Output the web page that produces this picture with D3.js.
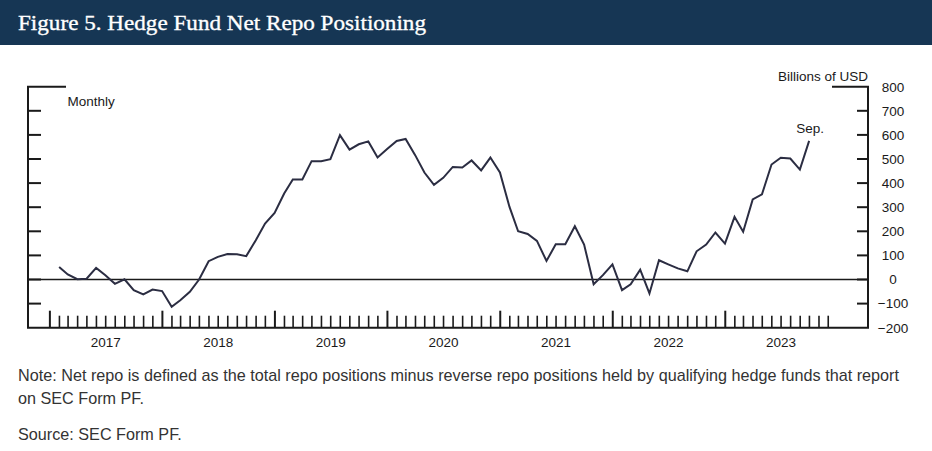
<!DOCTYPE html>
<html>
<head>
<meta charset="utf-8">
<script src="https://cdn.jsdelivr.net/npm/d3@7"></script>
<style>
  body { margin: 0; background: #fff; }
  svg { display: block; }
</style>
</head>
<body>
<div id="chart"></div>
<script>
// net repo, billions of USD, monthly from Jan 2017
const values2017 = [52, 21, 1, 3, 48, 18, -18, 1, -44, -62, -42, -48];
const values2018 = [-113, -86, -51, 0, 76, 94, 106, 105, 97, 163, 232, 276];
const values2019 = [357, 415, 415, 491, 491, 499, 599, 539, 561, 573, 506, 541];
const values2020 = [575, 583, 516, 444, 393, 422, 467, 465, 494, 453, 506, 444];
const values2021 = [301, 200, 189, 160, 77, 146, 146, 221, 145, -20, 18, 63];
const values2022 = [-44, -20, 41, -58, 80, 63, 46, 34, 117, 145, 195, 149];
const values2023 = [260, 198, 332, 353, 477, 505, 502, 456, 575];
const yearLabels = [2017, 2018, 2019, 2020, 2021, 2022, 2023];
const yTicks = [-200, -100, 0, 100, 200, 300, 400, 500, 600, 700, 800];

const netRepo = [].concat(values2017, values2018, values2019, values2020,
                          values2021, values2022, values2023);
const startDate = new Date(2017, 0, 1);
// each month is plotted at its last day
const data = netRepo.map((v, i) => ({
  date: d3.timeDay.offset(d3.timeMonth.offset(startDate, i + 1), -1),
  value: v
}));

const width = 932, height = 451;
const plotLeft = 28, plotRight = 868, plotTop = 86.7, plotBottom = 327.7;
const ink = "#1a1a1a";
const font = "'Liberation Sans', Arial, sans-serif";

let svg = d3.select("#chart")
  .append("svg")
  .attr("width", width)
  .attr("height", height);

// title bar
svg.append("rect")
  .attr("x", 0).attr("y", 0)
  .attr("width", width).attr("height", 45)
  .attr("fill", "#163654");
svg.append("text")
  .attr("x", 18).attr("y", 30)
  .attr("fill", "#fff")
  .attr("stroke", "#fff")
  .attr("stroke-width", 0.35)
  .style("font-family", "Georgia, 'Liberation Serif', serif")
  .style("font-size", "22px")
  .attr("textLength", 408)
  .attr("lengthAdjust", "spacingAndGlyphs")
  .text("Figure 5. Hedge Fund Net Repo Positioning");

let x = d3.scaleTime()
  .domain([new Date(2016, 9, 22), new Date(2024, 3, 8)])
  .range([plotLeft, plotRight]);
let y = d3.scaleLinear().domain([-200, 800]).range([plotBottom, plotTop]);

// zero line
svg.append("line")
  .attr("x1", plotLeft).attr("x2", plotRight)
  .attr("y1", y(0)).attr("y2", y(0))
  .attr("stroke", ink).attr("stroke-width", 1.5);

// month ticks along the bottom, pointing up
const months = d3.timeMonth.range(new Date(2017, 0, 1), new Date(2024, 0, 1));
svg.selectAll(".mtick")
  .data(months)
  .enter()
  .append("line")
  .attr("class", "mtick")
  .attr("x1", (d) => x(d)).attr("x2", (d) => x(d))
  .attr("y1", plotBottom)
  .attr("y2", (d) => d.getMonth() === 0 ? plotBottom - 17 : plotBottom - 12)
  .attr("stroke", ink)
  .attr("stroke-width", (d) => d.getMonth() === 0 ? 2 : 1.6);

// year labels, centred in each year
svg.selectAll(".year")
  .data(yearLabels)
  .enter()
  .append("text")
  .attr("class", "year")
  .attr("x", (d) => x(new Date(d, 6, 1)))
  .attr("y", 347)
  .attr("text-anchor", "middle")
  .attr("fill", ink)
  .style("font-family", font)
  .style("font-size", "13.5px")
  .text((d) => d);

// left and right axis ticks
const inner = yTicks.filter((d) => d > -200 && d < 800);
svg.selectAll(".ltick")
  .data(inner)
  .enter()
  .append("line")
  .attr("x1", plotLeft).attr("x2", plotLeft + 13)
  .attr("y1", (d) => y(d)).attr("y2", (d) => y(d))
  .attr("stroke", ink).attr("stroke-width", 2);
svg.selectAll(".rtick")
  .data(inner)
  .enter()
  .append("line")
  .attr("x1", plotRight - 11).attr("x2", plotRight)
  .attr("y1", (d) => y(d)).attr("y2", (d) => y(d))
  .attr("stroke", ink).attr("stroke-width", 2);

// frame: left, right, bottom and the short top segments
svg.append("path")
  .attr("d", `M${plotLeft + 38},${y(800)}H${plotLeft}V${plotBottom}H${plotRight}V${y(800)}H${plotRight - 36}`)
  .attr("fill", "none")
  .attr("stroke", ink)
  .attr("stroke-width", 2);

svg.selectAll(".ylab")
  .data(yTicks)
  .enter()
  .append("text")
  .attr("class", "ylab")
  .attr("x", 893)
  .attr("y", (d) => y(d))
  .attr("dy", "0.36em")
  .attr("text-anchor", "middle")
  .attr("fill", ink)
  .style("font-family", font)
  .style("font-size", "13.5px")
  .text((d) => d < 0 ? "\u2212" + Math.abs(d) : d);

svg.append("text")
  .attr("x", plotRight).attr("y", 81)
  .attr("text-anchor", "end")
  .attr("fill", ink)
  .style("font-family", font)
  .style("font-size", "13.5px")
  .text("Billions of USD");

svg.append("text")
  .attr("x", 67.5).attr("y", 106)
  .attr("fill", ink)
  .style("font-family", font)
  .style("font-size", "13.5px")
  .text("Monthly");

// the series
let line = d3.line()
  .x((d) => x(d.date))
  .y((d) => y(d.value));

svg.append("path")
  .datum(data)
  .attr("d", line)
  .attr("fill", "none")
  .attr("stroke", "#2b2d42")
  .attr("stroke-width", 2)
  .attr("stroke-linejoin", "miter");

const last = data[data.length - 1];
svg.append("text")
  .attr("x", x(last.date) + 1)
  .attr("y", y(last.value) - 8)
  .attr("text-anchor", "middle")
  .attr("fill", ink)
  .style("font-family", font)
  .style("font-size", "13.5px")
  .text("Sep.");

// notes
const notes = [
  { t: "Note: Net repo is defined as the total repo positions minus reverse repo positions held by qualifying hedge funds that report", y: 381 },
  { t: "on SEC Form PF.", y: 404 },
  { t: "Source: SEC Form PF.", y: 440 }
];
svg.selectAll(".note")
  .data(notes)
  .enter()
  .append("text")
  .attr("class", "note")
  .attr("x", 18)
  .attr("y", (d) => d.y)
  .attr("fill", "#333")
  .style("font-family", font)
  .style("font-size", "16.2px")
  .text((d) => d.t);
</script>
</body>
</html>
